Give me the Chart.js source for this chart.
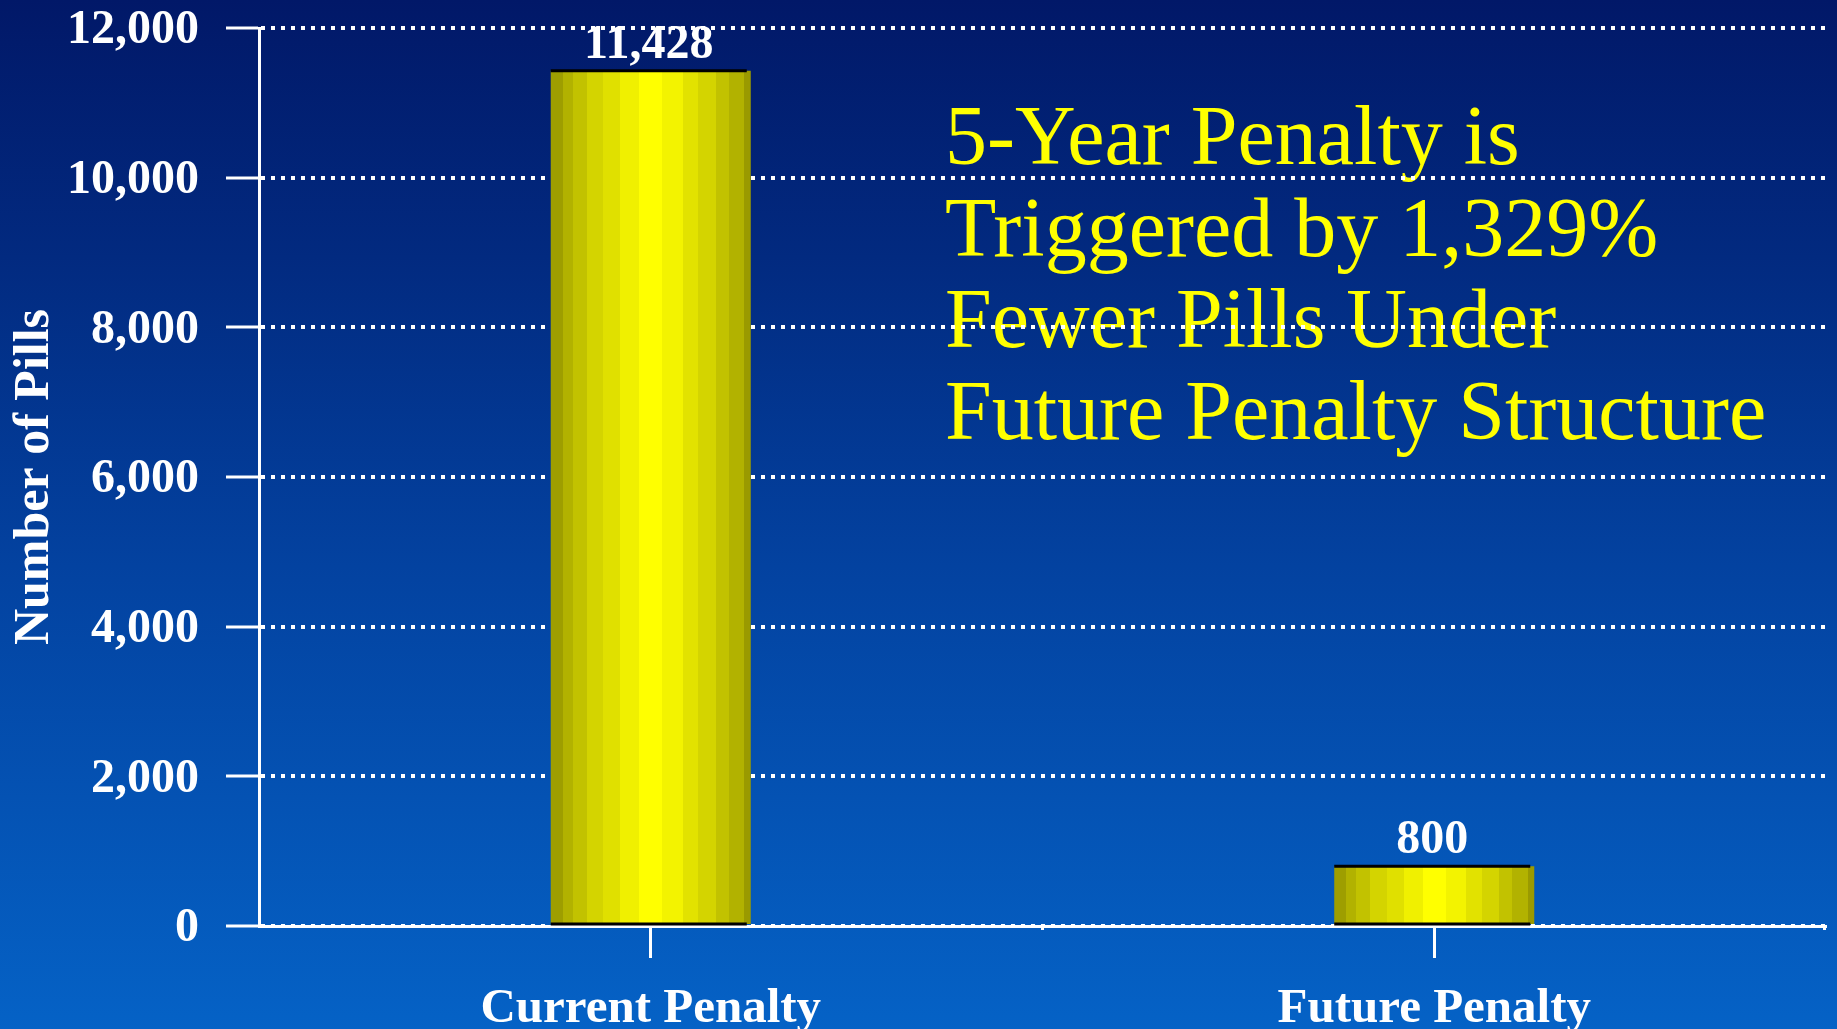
<!DOCTYPE html>
<html>
<head>
<meta charset="utf-8">
<script src="https://cdn.jsdelivr.net/npm/chart.js@4.4.1/dist/chart.umd.min.js"></script>
<style>
  html, body { margin: 0; padding: 0; overflow: hidden; }
  body { width: 1837px; height: 1029px;
         background: linear-gradient(to bottom, #011868 0%, #022a80 25%, #0342a0 55%, #0562c6 100%); }
  #wrap { position: relative; width: 1837px; height: 1029px; }
</style>
</head>
<body>
<div id="wrap"><canvas id="chart"></canvas></div>
<script>
// ---- data ----
const categories = ['Current Penalty', 'Future Penalty'];
const pillCounts = [11428, 800];
const yTickValues = [0, 2000, 4000, 6000, 8000, 10000, 12000];
const yAxisTitle = 'Number of Pills';
const annotationLines = [
  '5-Year Penalty is',
  'Triggered by 1,329%',
  'Fewer Pills Under',
  'Future Penalty Structure'
];

// ---- styling ----
const SERIF = '"Liberation Serif", "Times New Roman", Times, serif';
const BAR_PCT = 0.2553;
const bandStops = [
  [0.000, '#9e9e00'], [0.059, '#b2b200'], [0.110, '#c2c200'], [0.179, '#d4d400'],
  [0.263, '#e0e000'], [0.348, '#f0f000'], [0.442, '#ffff00'], [0.558, '#f3f300'],
  [0.660, '#e2e200'], [0.737, '#d4d400'], [0.826, '#c2c200'], [0.890, '#b2b200'],
  [0.967, '#9a9a00'], [1.000, '#9a9a00']
];
function fmt(v) { return Number(v).toLocaleString('en-US'); }

function barFill(c) {
  const chart = c.chart;
  const xs = chart.scales && chart.scales.x;
  if (!xs || c.type !== 'data' || !xs.width) return '#e0e000';
  const cx = xs.getPixelForValue(c.dataIndex);
  const w = (xs.width / categories.length) * BAR_PCT;
  const g = chart.ctx.createLinearGradient(cx - w / 2, 0, cx + w / 2, 0);
  for (let i = 0; i < bandStops.length; i++) {
    const [p, col] = bandStops[i];
    g.addColorStop(p, col);
    if (i + 1 < bandStops.length) g.addColorStop(Math.max(p, bandStops[i + 1][0] - 0.0001), col);
  }
  return g;
}

const annotationPlugin = {
  id: 'annotationText',
  beforeDraw(chart) {
    const ctx = chart.ctx;
    ctx.save();
    ctx.fillStyle = '#ffff00';
    ctx.font = '84px ' + SERIF;
    ctx.textAlign = 'left';
    ctx.textBaseline = 'alphabetic';
    annotationLines.forEach((line, i) => {
      ctx.fillText(line, 945, 164 + i * 91.7);
    });
    ctx.restore();
  }
};

const barDecorPlugin = {
  id: 'barDecor',
  afterDatasetsDraw(chart) {
    const ctx = chart.ctx;
    const meta = chart.getDatasetMeta(0);
    const xs = chart.scales.x;
    ctx.save();
    // small marks at the category boundary and the right end of the x axis
    ctx.fillStyle = '#ffffff';
    const mid = (xs.getPixelForValue(0) + xs.getPixelForValue(1)) / 2;
    ctx.fillRect(mid - 1.5, xs.top, 3, 4);
    ctx.fillRect(xs.right - 3, xs.top, 3, 4);
    meta.data.forEach((el, i) => {
      const left = el.x - el.width / 2, right = el.x + el.width / 2;
      ctx.strokeStyle = '#000000';
      ctx.lineWidth = 3;
      ctx.beginPath();
      ctx.moveTo(left, el.y); ctx.lineTo(right - 4, el.y);
      ctx.moveTo(left, el.base); ctx.lineTo(right - 4, el.base);
      ctx.stroke();
      ctx.fillStyle = '#ffffff';
      ctx.font = 'bold 48px ' + SERIF;
      ctx.textAlign = 'center';
      ctx.textBaseline = 'alphabetic';
      ctx.fillText(fmt(pillCounts[i]), el.x - 2, el.y - 13);
    });
    ctx.restore();
  }
};

new Chart(document.getElementById('chart'), {
  type: 'bar',
  data: {
    labels: categories,
    datasets: [{
      data: pillCounts,
      backgroundColor: barFill,
      borderWidth: 0,
      barPercentage: BAR_PCT,
      categoryPercentage: 1.0
    }]
  },
  options: {
    responsive: true,
    maintainAspectRatio: false,
    animation: false,
    layout: { padding: { top: 28, right: 11, left: 0, bottom: 0 } },
    plugins: { legend: { display: false }, tooltip: { enabled: false } },
    scales: {
      x: {
        afterFit(s) { s.height = 103; s.paddingLeft = 0; s.paddingRight = 0; },
        grid: { display: true, drawOnChartArea: false, offset: false,
                tickLength: 32, tickWidth: 3, tickColor: '#ffffff', color: '#ffffff' },
        border: { display: true, color: '#ffffff', width: 3 },
        ticks: { color: '#ffffff', padding: 22, maxRotation: 0,
                 font: { family: SERIF, size: 49, weight: 'bold' } }
      },
      y: {
        min: 0, max: 12000,
        afterFit(s) { s.width = 259; s.paddingTop = 0; s.paddingBottom = 0; },
        afterBuildTicks(s) { s.ticks = yTickValues.map(v => ({ value: v })); },
        grid: { color: '#ffffff', lineWidth: 4, tickLength: 33, tickWidth: 3,
                tickColor: '#ffffff', tickBorderDash: [] },
        border: { display: true, color: '#ffffff', width: 3, dash: [4, 6], dashOffset: 0 },
        ticks: { color: '#ffffff', padding: 27, labelOffset: 3,
                 font: { family: SERIF, size: 48, weight: 'bold' },
                 callback: (v) => fmt(v) },
        title: { display: true, text: yAxisTitle, color: '#ffffff',
                 padding: { top: 5, bottom: 0 },
                 font: { family: SERIF, size: 50, weight: 'bold' } }
      }
    }
  },
  plugins: [annotationPlugin, barDecorPlugin]
});
</script>
</body>
</html>
